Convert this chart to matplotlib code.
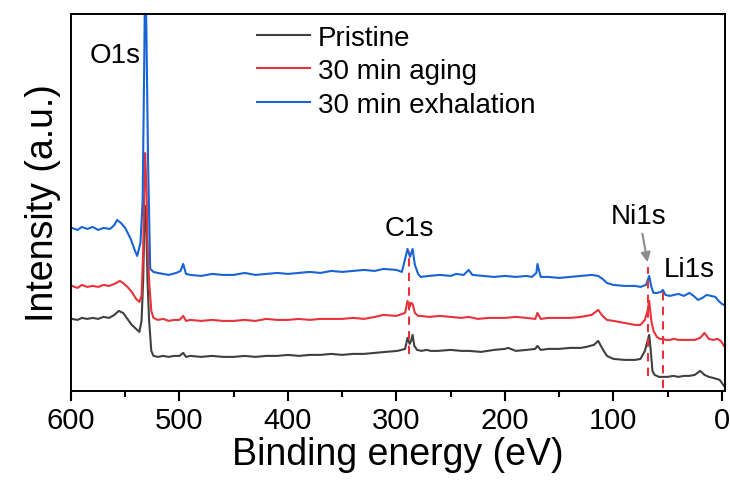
import matplotlib.pyplot as plt
from matplotlib.ticker import MultipleLocator

plt.rcParams['font.family'] = ['Liberation Sans', 'DejaVu Sans']

# binding energy (eV) / intensity (a.u.)
energy_blue = [599, 594, 590, 585, 580, 575, 570, 564, 560, 557.5, 554, 550, 545, 541, 539,
               536, 534, 532.5, 531.7, 530.5, 529, 527, 524, 520, 515, 510, 503, 499, 496.6,
               494, 490, 480, 470, 460, 450, 440, 430, 420, 410, 400, 390, 380, 370, 360, 350,
               340, 330, 320, 312, 300, 295, 292, 289.8, 287.5, 285.1, 283, 280, 277.7, 270,
               260, 250, 245, 238, 233.4, 230, 220, 210, 200, 190, 180, 175, 171, 170, 167,
               160, 150, 140, 130, 120, 114, 110, 106, 100, 90, 80, 75, 70, 67, 65, 63, 60,
               56, 54.4, 52, 48, 44, 40, 35, 30, 26, 22, 18, 14, 10, 6, 3, 0, -2]
inten_blue = [163, 161, 164, 162, 164, 161, 163, 162, 166, 171, 168, 163, 152, 140, 135,
              148, 190, 330, 420, 360, 230, 122, 119, 118, 117, 116, 118, 120, 127,
              117, 116, 115, 117, 116, 116, 118, 116, 117, 118, 117, 118, 119, 118, 120, 119,
              120, 121, 120, 122, 121, 119, 132, 142, 134, 142, 126, 117, 114, 115,
              116, 115, 117, 116, 121, 116, 115, 114, 115, 114, 115, 114, 118, 127, 114,
              114, 113, 114, 115, 116, 115, 112, 108, 106, 105, 105, 104, 106, 115, 104, 98, 98,
              99, 101, 96, 95, 96, 97, 95, 98, 95, 91, 93, 96, 95, 94, 90, 87, 86]

energy_red = [599, 594, 590, 585, 580, 575, 570, 565, 560, 555, 552, 548, 544, 540, 537,
              535, 533.5, 532.5, 531.7, 530.5, 529.5, 528, 526, 524, 520, 515, 510, 505, 500,
              496.6, 494, 490, 480, 470, 460, 450, 440, 430, 420, 410, 400, 390, 380, 370, 360,
              350, 340, 330, 320, 312, 300, 292, 289.8, 287.8, 286.5, 285.1, 283, 280, 277.7,
              270, 260, 250, 240, 233.4, 225, 215, 205, 200, 190, 180, 172, 170, 167, 160,
              150, 140, 130, 120, 114, 110, 106, 100, 90, 80, 75, 71, 68.5, 67, 65, 63, 60, 57,
              54.4, 52, 48, 44, 40, 35, 30, 25, 20, 16, 12, 8, 4, 1, -2]
inten_red = [105, 103, 106, 104, 105, 104, 106, 105, 107, 110, 108, 104, 99, 92, 89,
             95, 140, 200, 238, 205, 150, 110, 80, 73, 71, 72, 70, 71, 71,
             75, 70, 71, 70, 71, 70, 70, 71, 70, 72, 71, 71, 72, 71, 72, 72,
             72, 73, 72, 74, 76, 75, 78, 90, 84, 88, 87, 78, 75, 75,
             74, 75, 74, 73, 74, 72, 73, 73, 73, 74, 73, 72, 78, 72, 73,
             73, 73, 74, 76, 81, 75, 71, 70, 68, 66, 66, 71, 80, 90, 70, 60, 54, 52,
             52, 51, 51, 52, 51, 51, 51, 51, 53, 58, 52, 51, 52, 50, 45]

energy_black = [599, 594, 590, 585, 580, 575, 570, 565, 560, 556, 552, 548, 544, 540, 537,
                535, 533.5, 532.5, 531.5, 530.5, 529.5, 528, 526, 524, 520, 515, 510, 505, 500,
                496.6, 494, 490, 480, 470, 460, 450, 440, 430, 420, 410, 400, 390, 380, 370,
                360, 350, 340, 330, 320, 310, 299, 292, 289.8, 287.8, 286.5, 285.1, 283.5, 281,
                277, 272, 268.5, 262, 250, 240, 233, 222, 210, 200, 197, 190, 180, 172, 170,
                167, 160, 150, 140, 130, 125, 118, 114, 110, 106, 100, 90, 80, 75, 71, 68.5, 67,
                65.5, 64, 62, 58, 54.4, 50, 45, 40, 35, 30, 25, 20, 16, 12, 8, 5, 2, 0, -2]
inten_black = [72, 71, 73, 72, 73, 72, 74, 73, 76, 80, 78, 72, 66, 62, 59,
               70, 110, 160, 185, 160, 110, 70, 40, 35, 34, 35, 34, 35, 35,
               38, 34, 35, 34, 35, 34, 34, 35, 34, 35, 35, 36, 35, 36, 36,
               37, 36, 37, 37, 38, 39, 40, 42, 53, 47, 50, 56, 45, 41,
               40, 41, 40, 40, 41, 40, 40, 39, 41, 42, 43, 40, 41, 42, 45,
               41, 42, 42, 43, 43, 44, 46, 50, 42, 35, 32, 31, 31, 32, 40, 50, 56,
               40, 20, 16, 14, 14, 14, 15, 14, 15, 15, 16, 20, 16, 14, 13, 12, 11, 8, 5]

series_labels = ['Pristine', '30 min aging', '30 min exhalation']
series_colors = ['#404040', '#e8323a', '#1964d4']

# peak labels: text, energy, intensity
peak_names = ['O1s', 'C1s', 'Ni1s', 'Li1s']
peak_text_e = [559.4, 287.9, 76.5, 30.3]
peak_text_i = [336, 163, 175, 122]

# dashed guide lines: energy, bottom, top
guide_e = [288, 68.2, 54.4]
guide_lo = [37, 15, 3]
guide_hi = [140, 124, 105]

fig = plt.figure(figsize=(7.3, 4.85), dpi=100)
ax = fig.add_axes([0.0973, 0.192, 0.896, 0.777])

ax.plot(energy_black, inten_black, color=series_colors[0], lw=1.5, label=series_labels[0])
ax.plot(energy_red, inten_red, color=series_colors[1], lw=1.5, label=series_labels[1])
ax.plot(energy_blue, inten_blue, color=series_colors[2], lw=1.5, label=series_labels[2])

for e, lo, hi in zip(guide_e, guide_lo, guide_hi):
    ax.plot([e, e], [lo, hi], color='#e8323a', lw=1.5, ls=(0, (4, 3)))

for name, e, i in zip(peak_names, peak_text_e, peak_text_i):
    ax.text(e, i, name, fontsize=20, ha='center', va='center')

# arrow pointing at the Ni1s peak
ax.annotate('', xy=(68.1, 126), xytext=(73.7, 160),
            arrowprops=dict(arrowstyle='-|>', color='#8c8c8c', lw=1.5, mutation_scale=14))

ax.set_xlim(600, -3)
ax.set_ylim(0, 377)
ax.xaxis.set_major_locator(MultipleLocator(100))
ax.xaxis.set_minor_locator(MultipleLocator(50))
ax.set_yticks([])
ax.tick_params(axis='x', which='major', direction='out', length=7, width=1.5, labelsize=21, pad=4)
ax.tick_params(axis='x', which='minor', direction='out', length=4, width=1.5)
for sp in ax.spines.values():
    sp.set_linewidth(1.4)

ax.set_xlabel('Binding energy (eV)', fontsize=27, labelpad=1)
ax.set_ylabel('Intensity (a.u.)', fontsize=27, labelpad=7)

ax.legend(loc='upper left', bbox_to_anchor=(0.284, 0.972), frameon=False, fontsize=20,
          handlelength=1.9, handletextpad=0.3, labelspacing=0.27, borderpad=0,
          borderaxespad=0)

fig.savefig('out.png', dpi=100)
